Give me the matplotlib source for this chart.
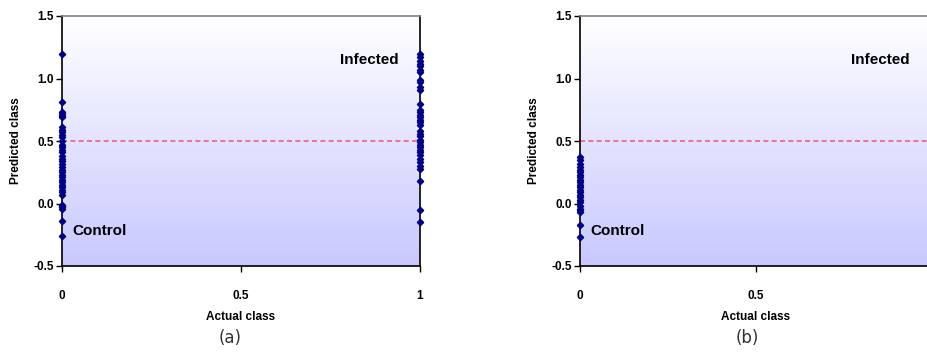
import numpy as np
import matplotlib
matplotlib.use("Agg")
import matplotlib.pyplot as plt
from matplotlib.colors import LinearSegmentedColormap

# ---- data ----
control_a = [1.20, 0.81, 0.73, 0.72, 0.70, 0.69, 0.61, 0.59, 0.57, 0.55, 0.53,
             0.50, 0.47, 0.45, 0.43, 0.41, 0.38, 0.36, 0.34, 0.32, 0.29, 0.27,
             0.25, 0.23, 0.21, 0.19, 0.17, 0.15, 0.13, 0.11, 0.09, 0.07,
             -0.01, -0.02, -0.03, -0.04, -0.14, -0.26]
infected_a = [1.20, 1.17, 1.14, 1.12, 1.10, 1.07, 1.05, 0.99, 0.97, 0.93, 0.91,
              0.80, 0.75, 0.73, 0.71, 0.69, 0.67, 0.65, 0.63, 0.58, 0.56, 0.54,
              0.51, 0.49, 0.47, 0.45, 0.43, 0.41, 0.39, 0.36, 0.33, 0.30, 0.28,
              0.18, -0.05, -0.15]
control_b = [0.37, 0.35, 0.32, 0.29, 0.27, 0.25, 0.23, 0.21, 0.19, 0.17, 0.15,
             0.13, 0.11, 0.09, 0.07, 0.05, 0.03, 0.01, -0.02, -0.04, -0.05,
             -0.07, -0.17, -0.27]
threshold = 0.5
xticks_a = [0, 0.5, 1]
xticklabels_a = ["0", "0.5", "1"]
xticks_b = [0, 0.5]
xticklabels_b = ["0", "0.5"]
yticks = [-0.5, 0.0, 0.5, 1.0, 1.5]
yticklabels = ["-0.5", "0.0", "0.5", "1.0", "1.5"]
panel_labels = ["(a)", "(b)"]

plt.rcParams['font.family'] = ['Liberation Sans', 'DejaVu Sans']

W, H = 928, 352
fig = plt.figure(figsize=(W / 100, H / 100), dpi=100)

cmap = LinearSegmentedColormap.from_list("bg", ["#FFFFFF", "#C8C8FF"])
grad = np.linspace(0, 1, 256).reshape(-1, 1)

def make_panel(left_px, right_px, series, xt, xtl, label, label_x_px):
    ax = fig.add_axes([left_px / W, (H - 266) / H, (right_px - left_px) / W, 250 / H])
    ax.imshow(grad, extent=[0, 1, 0, 1], transform=ax.transAxes, aspect='auto',
              cmap=cmap, zorder=0, interpolation='bilinear')
    ax.set_xlim(0, 1)
    ax.set_ylim(-0.5, 1.5)
    ax.axhline(threshold, color="#F06080", lw=1.2, ls=(0, (3, 2)), zorder=2)
    for x, vals in series:
        ax.plot([x] * len(vals), vals, ls='none', marker='D', ms=3.2,
                color="#000080", zorder=4, clip_on=False)
    ax.set_xticks(xt)
    ax.set_xticklabels(xtl, fontsize=8.5, fontweight='bold')
    ax.set_yticks(yticks)
    ax.set_yticklabels(yticklabels, fontsize=8.5, fontweight='bold')
    ax.tick_params(axis='x', length=4, width=1, pad=13, direction='out')
    ax.tick_params(axis='y', length=4, width=1, pad=2, direction='out')
    for s in ['left', 'bottom', 'right']:
        ax.spines[s].set_color('black')
        ax.spines[s].set_linewidth(1.2)
    ax.spines['top'].set_color('#808080')
    ax.spines['top'].set_linewidth(1.2)
    ax.set_xlabel("Actual class", fontsize=8.5, fontweight='bold', labelpad=7)
    ax.set_ylabel("Predicted class", fontsize=8.5, fontweight='bold', labelpad=8)
    ax.text(0.94, 1.15, "Infected", transform=ax.transData, fontsize=11,
            fontweight='bold', ha='right', va='center', zorder=5)
    ax.text(0.03, -0.22, "Control", transform=ax.transData, fontsize=11,
            fontweight='bold', ha='left', va='center', zorder=5)
    fig.text(label_x_px / W, 1 - 338 / H, label, fontsize=12, ha='center',
             va='center', color='#333333', family=['DejaVu Sans'])
    return ax

make_panel(62, 420, [(0, control_a), (1, infected_a)], xticks_a, xticklabels_a,
           panel_labels[0], 230)
make_panel(580, 931, [(0, control_b)], xticks_b, xticklabels_b,
           panel_labels[1], 747)

fig.savefig("out.png", dpi=100)
